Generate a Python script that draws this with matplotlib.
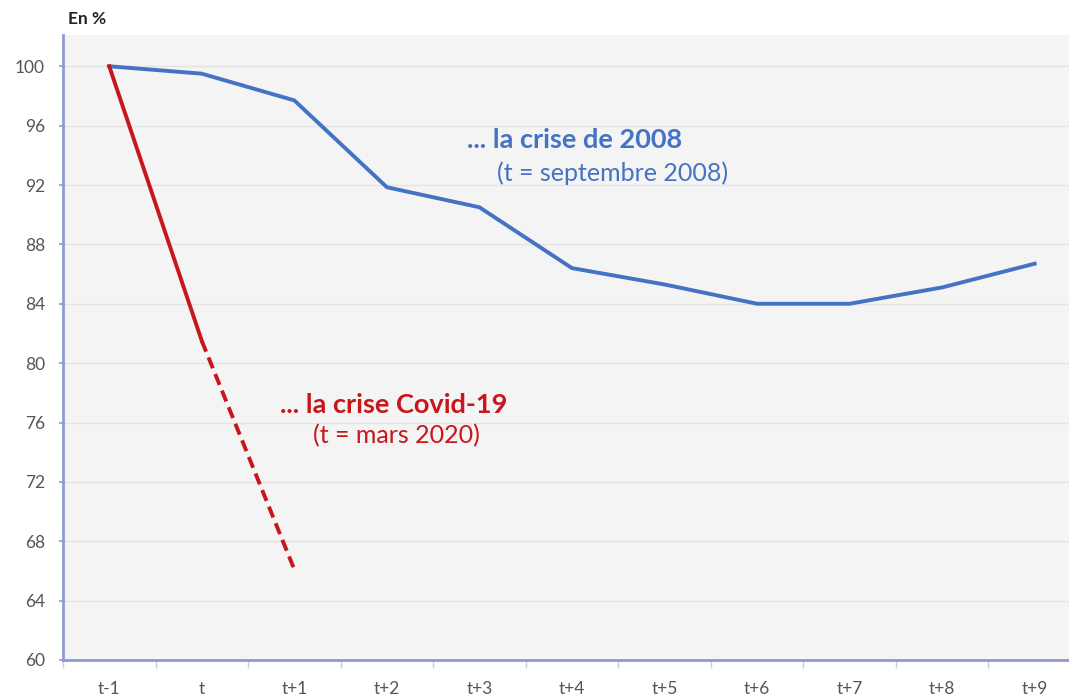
import matplotlib.pyplot as plt
import numpy as np

plt.rcParams['font.family'] = ['Lato', 'DejaVu Sans']

categories = ['t-1', 't', 't+1', 't+2', 't+3', 't+4', 't+5', 't+6', 't+7', 't+8', 't+9']
crise_2008 = [100, 99.5, 97.7, 91.85, 90.5, 86.4, 85.3, 84.0, 84.0, 85.1, 86.7]
covid_solid = [100, 81.5]
covid_dashed = [81.5, 66.1]
yticks = [60, 64, 68, 72, 76, 80, 84, 88, 92, 96, 100]

blue = '#4472C4'
red = '#C8161D'
spine = '#8F9AD0'

fig = plt.figure(figsize=(10.69, 6.99), dpi=100)
ax = fig.add_axes([0.0589, 0.0558, 0.9523, 0.894])
ax.set_facecolor('#f4f4f4')

x = np.arange(len(categories))
ax.plot(x, crise_2008, color=blue, lw=2.8, solid_joinstyle='round', zorder=3)
ax.plot(x[:2], covid_solid, color=red, lw=2.8, zorder=3)
ax.plot(x[1:3], covid_dashed, color=red, lw=2.8, ls=(0, (3, 1.6)), zorder=3)

ax.set_xlim(-0.5, len(categories) - 0.5)
ax.set_ylim(60, 102.1)
ax.set_yticks(yticks)
ax.set_yticklabels([str(v) for v in yticks])
ax.set_xticks(x)
ax.set_xticklabels(categories)
ax.set_xticks(np.arange(len(categories) + 1) - 0.5, minor=True)

ax.grid(axis='y', color='#e4e4e4', lw=1)
ax.set_axisbelow(True)
for s in ['top', 'right']:
    ax.spines[s].set_visible(False)
for s in ['left', 'bottom']:
    ax.spines[s].set_color(spine)
    ax.spines[s].set_linewidth(2)

ax.tick_params(axis='x', which='major', length=0, pad=15, labelsize=12.5, labelcolor='#555555')
ax.tick_params(axis='x', which='minor', length=6, color='#c8cce0', width=1)
ax.tick_params(axis='y', length=3, color=spine, width=1.2, pad=10, labelsize=12.5, labelcolor='#555555')

fig.text(0.064, 0.973, 'En %', fontsize=12.5, fontweight='bold', color='#222222', va='center')

ax.text(3.87, 95.0, '... la crise de 2008', color=blue, fontsize=19.5, fontweight='bold', va='center')
ax.text(4.19, 92.8, '(t = septembre 2008)', color=blue, fontsize=18, va='center')
ax.text(1.85, 77.2, '... la crise Covid-19', color=red, fontsize=19.5, fontweight='bold', va='center')
ax.text(2.20, 75.1, '(t = mars 2020)', color=red, fontsize=18, va='center')

fig.savefig('out.png', dpi=100)
